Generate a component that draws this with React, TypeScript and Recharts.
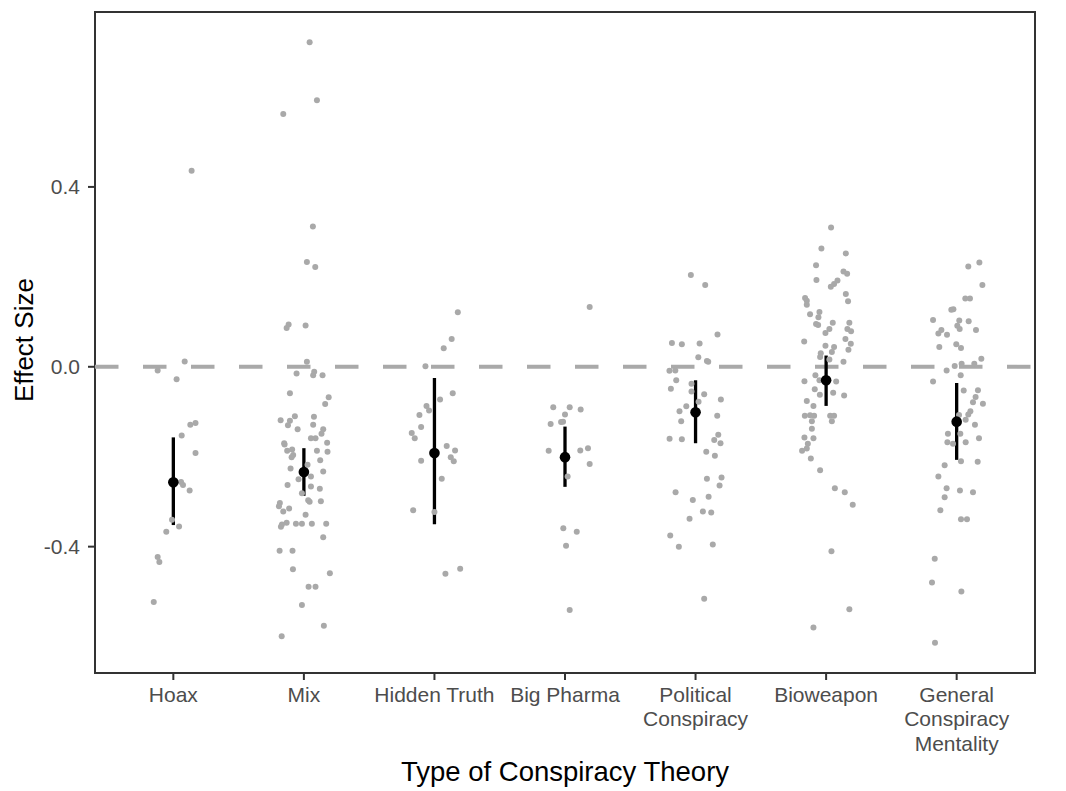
import {
  ComposedChart,
  Scatter,
  XAxis,
  YAxis,
  ReferenceLine,
  ReferenceArea,
} from "recharts";

const FONT = "'Liberation Sans', Arial, sans-serif";

const categories = [
  "Hoax",
  "Mix",
  "Hidden Truth",
  "Big Pharma",
  "Political\nConspiracy",
  "Bioweapon",
  "General\nConspiracy\nMentality",
];

// pooled estimate and 95% CI per type
const means = [-0.257, -0.234, -0.192, -0.201, -0.101, -0.03, -0.122];
const lower = [-0.352, -0.287, -0.35, -0.267, -0.17, -0.087, -0.207];
const upper = [-0.157, -0.181, -0.025, -0.133, -0.03, 0.025, -0.036];

// individual effect sizes: [jitter offset, effect size]
const hoax: [number, number][] = [
  [0.14, 0.436], [0.087, 0.012], [-0.12, -0.008], [0.025, -0.028], [0.13, -0.129],
  [0.17, -0.125], [0.064, -0.153], [0.17, -0.192], [0.059, -0.256], [0.074, -0.263],
  [0.125, -0.275], [-0.01, -0.34], [0.044, -0.355], [-0.054, -0.367], [-0.12, -0.423],
  [-0.107, -0.434], [-0.15, -0.523],
];

const mix: [number, number][] = [
  [0.044, 0.722], [0.1, 0.593], [-0.158, 0.562], [0.069, 0.312], [0.023, 0.233],
  [0.087, 0.222], [-0.117, 0.094], [-0.132, 0.086], [0.013, 0.092], [0.023, 0.011],
  [-0.056, -0.015], [0.079, -0.011], [0.071, -0.019], [0.143, -0.019], [-0.107, -0.059],
  [0.19, -0.068], [0.163, -0.083], [-0.069, -0.11], [-0.178, -0.119], [-0.107, -0.12],
  [-0.122, -0.13], [0.077, -0.111], [0.071, -0.129], [-0.048, -0.139], [0.148, -0.139],
  [0.135, -0.149], [0.054, -0.159], [0.089, -0.159], [-0.151, -0.17], [-0.148, -0.173],
  [0.178, -0.169], [-0.128, -0.187], [-0.09, -0.184], [-0.082, -0.196], [-0.094, -0.201],
  [0.1, -0.187], [0.181, -0.189], [0.125, -0.208], [-0.102, -0.226], [0.028, -0.218],
  [0.148, -0.233], [-0.041, -0.25], [0.054, -0.244], [-0.125, -0.263], [0.054, -0.266],
  [0.122, -0.271], [-0.015, -0.281], [0.033, -0.297], [0.044, -0.3], [0.13, -0.299],
  [-0.184, -0.303], [-0.191, -0.31], [-0.113, -0.315], [-0.158, -0.322], [0.013, -0.329],
  [-0.132, -0.347], [-0.168, -0.351], [-0.176, -0.356], [-0.061, -0.349], [-0.015, -0.349],
  [0.061, -0.349], [0.171, -0.349], [0.148, -0.379], [-0.186, -0.409], [-0.087, -0.409],
  [-0.084, -0.45], [0.199, -0.459], [0.036, -0.489], [0.089, -0.489], [-0.015, -0.53],
  [0.153, -0.576], [-0.17, -0.599],
];

const hiddenTruth: [number, number][] = [
  [0.179, 0.121], [0.132, 0.062], [0.071, 0.041], [-0.069, 0.001], [0.14, -0.059],
  [0.043, -0.073], [-0.061, -0.087], [-0.041, -0.097], [-0.115, -0.107], [-0.102, -0.134],
  [-0.174, -0.147], [-0.151, -0.159], [0.094, -0.176], [0.158, -0.186], [0.125, -0.201],
  [0.148, -0.21], [-0.102, -0.209], [0.056, -0.249], [-0.163, -0.319], [0, -0.323],
  [0.197, -0.449], [0.084, -0.46],
];

const bigPharma: [number, number][] = [
  [0.189, 0.133], [-0.09, -0.09], [0.036, -0.09], [0.12, -0.095], [0, -0.106],
  [-0.11, -0.127], [-0.03, -0.123], [-0.015, -0.122], [-0.125, -0.187], [0.117, -0.186],
  [0.176, -0.181], [0.189, -0.216], [0.02, -0.244], [-0.013, -0.359], [0.09, -0.367],
  [0.008, -0.398], [0.036, -0.541],
];

const political: [number, number][] = [
  [-0.036, 0.204], [0.074, 0.182], [0.168, 0.072], [-0.181, 0.053], [-0.105, 0.05],
  [0.031, 0.052], [0.021, 0.021], [0.087, 0.013], [0.097, 0.011], [-0.2, -0.009],
  [-0.155, -0.008], [-0.148, -0.03], [-0.189, -0.049], [-0.031, -0.038], [-0.031, -0.055],
  [0.066, -0.061], [0.194, -0.073], [0.023, -0.078], [-0.071, -0.088], [-0.123, -0.099],
  [-0.11, -0.121], [0.166, -0.109], [-0.199, -0.16], [-0.105, -0.161], [0.174, -0.151],
  [0.143, -0.163], [0.191, -0.17], [0.082, -0.189], [0.148, -0.198], [0.087, -0.249],
  [0.199, -0.246], [0.184, -0.264], [-0.153, -0.279], [0.1, -0.289], [-0.021, -0.296],
  [0.056, -0.322], [0.12, -0.324], [-0.046, -0.338], [-0.194, -0.375], [-0.128, -0.4],
  [0.132, -0.395], [0.066, -0.516],
];

const bioweapon: [number, number][] = [
  [0.038, 0.31], [-0.036, 0.263], [0.151, 0.252], [-0.077, 0.226], [0.133, 0.212],
  [0.161, 0.207], [-0.074, 0.193], [0.087, 0.192], [0.061, 0.184], [0.036, 0.178],
  [0.151, 0.162], [-0.161, 0.153], [-0.148, 0.147], [-0.148, 0.138], [0.168, 0.146],
  [-0.123, 0.117], [-0.051, 0.122], [-0.059, 0.11], [-0.077, 0.095], [-0.061, 0.093],
  [0.051, 0.098], [0.178, 0.098], [0.025, 0.084], [-0.005, 0.075], [0.163, 0.084],
  [0.191, 0.079], [-0.168, 0.056], [0.148, 0.062], [0.189, 0.051], [-0.005, 0.047],
  [0.061, 0.044], [0.044, 0.033], [0.171, 0.038], [-0.041, 0.03], [-0.046, 0.022],
  [0.025, 0.016], [0.133, 0.011], [-0.082, -0.019], [-0.051, -0.03], [-0.166, -0.032],
  [0.077, -0.033], [-0.087, -0.05], [-0.048, -0.062], [0.054, -0.058], [0.138, -0.064],
  [-0.148, -0.076], [-0.097, -0.087], [-0.163, -0.109], [-0.123, -0.108], [-0.092, -0.109],
  [0.031, -0.109], [0.061, -0.109], [0.044, -0.121], [-0.109, -0.121], [-0.109, -0.138],
  [-0.166, -0.157], [-0.097, -0.159], [-0.14, -0.171], [-0.148, -0.182], [-0.184, -0.187],
  [-0.117, -0.204], [-0.046, -0.23], [0.067, -0.27], [0.143, -0.279], [0.204, -0.307],
  [0.041, -0.41], [0.178, -0.539], [-0.097, -0.58],
];

const general: [number, number][] = [
  [0.174, 0.232], [0.089, 0.223], [0.197, 0.182], [0.066, 0.152], [0.102, 0.152],
  [-0.041, 0.127], [-0.025, 0.128], [-0.181, 0.104], [0.02, 0.103], [0.005, 0.091],
  [0.023, 0.084], [0.092, 0.101], [-0.117, 0.082], [-0.14, 0.074], [-0.074, 0.071],
  [0.148, 0.082], [-0.003, 0.05], [0.033, 0.042], [-0.133, 0.044], [0.189, 0.018],
  [0.135, 0.007], [0.038, 0.007], [-0.015, 0.002], [-0.077, -0.008], [-0.181, -0.033],
  [0.031, -0.019], [0.054, -0.053], [0.163, -0.052], [0.145, -0.067], [0.125, -0.079],
  [0.201, -0.082], [0.105, -0.099], [0.089, -0.106], [0.018, -0.107], [0.069, -0.118],
  [0.14, -0.129], [-0.067, -0.149], [0.028, -0.149], [0.171, -0.159], [-0.071, -0.168],
  [-0.028, -0.171], [0.069, -0.168], [0.033, -0.21], [0.161, -0.211], [-0.092, -0.219],
  [-0.14, -0.244], [-0.077, -0.27], [-0.092, -0.29], [0.025, -0.275], [0.125, -0.279],
  [-0.125, -0.319], [0.033, -0.339], [0.079, -0.339], [-0.168, -0.427], [-0.189, -0.48],
  [0.036, -0.5], [-0.166, -0.614],
];

const yTicks = [-0.4, 0, 0.4];
const Y_MIN = -0.681;
const Y_MAX = 0.789;
const X_MIN = 0.4;
const X_MAX = 7.6;

const groups = [hoax, mix, hiddenTruth, bigPharma, political, bioweapon, general];

const studyPoints = groups.flatMap((g, i) =>
  g.map(([jit, v]) => ({ x: i + 1 + jit, y: v }))
);
const meanPoints = means.map((m, i) => ({ x: i + 1, y: m }));

function CategoryTick({ x, y, payload }: any) {
  const idx = Math.round(payload.value) - 1;
  const lines = (categories[idx] ?? "").split("\n");
  return (
    <text
      x={x}
      y={y + 19.5}
      textAnchor="middle"
      fill="#4d4d4d"
      fontSize={21}
      fontFamily={FONT}
    >
      {lines.map((l, i) => (
        <tspan key={i} x={x} dy={i === 0 ? 0 : 24.5}>
          {l}
        </tspan>
      ))}
    </text>
  );
}

export default function App() {
  return (
    <div style={{ position: "absolute", left: 0, top: 0, width: 1066, height: 791, background: "#fff" }}>
      <ComposedChart
        width={1066}
        height={791}
        margin={{ top: 12, right: 31, left: 0, bottom: 0 }}
      >
        <XAxis
          dataKey="x"
          type="number"
          domain={[X_MIN, X_MAX]}
          ticks={[1, 2, 3, 4, 5, 6, 7]}
          interval={0}
          allowDataOverflow
          axisLine={false}
          tickLine={{ stroke: "#333", strokeWidth: 2 }}
          tickSize={7}
          tickMargin={2}
          height={118}
          tick={CategoryTick}
        />
        <YAxis
          dataKey="y"
          type="number"
          domain={[Y_MIN, Y_MAX]}
          ticks={yTicks}
          allowDataOverflow
          axisLine={false}
          tickLine={{ stroke: "#333", strokeWidth: 2 }}
          tickSize={7}
          tickMargin={8}
          width={95}
          tickFormatter={(v: number) => v.toFixed(1)}
          tick={{ fill: "#4d4d4d", fontSize: 21, fontFamily: FONT }}
        />
        <Scatter
          data={studyPoints}
          isAnimationActive={false}
          shape={(p: any) => <circle cx={p.cx} cy={p.cy} r={3} fill="#a9a9a9" />}
        />
        <ReferenceLine
          y={0}
          stroke="#a9a9a9"
          strokeWidth={4}
          strokeDasharray="23.5 24.5"
        />
        {means.map((_, i) => (
          <ReferenceLine
            key={i}
            segment={[
              { x: i + 1, y: lower[i] },
              { x: i + 1, y: upper[i] },
            ]}
            stroke="#000"
            strokeWidth={3.3}
          />
        ))}
        <Scatter
          data={meanPoints}
          isAnimationActive={false}
          shape={(p: any) => <circle cx={p.cx} cy={p.cy} r={5.3} fill="#000" />}
        />
        <ReferenceArea
          x1={X_MIN}
          x2={X_MAX}
          y1={Y_MIN}
          y2={Y_MAX}
          fill="none"
          stroke="#333"
          strokeWidth={2}
          ifOverflow="visible"
        />
      </ComposedChart>
      <svg
        width={1066}
        height={791}
        style={{ position: "absolute", left: 0, top: 0, pointerEvents: "none" }}
      >
        <text x={565} y={781} textAnchor="middle" fontSize={27.5} fontFamily={FONT} fill="#000">
          Type of Conspiracy Theory
        </text>
        <text
          x={-340}
          y={33}
          transform="rotate(-90)"
          textAnchor="middle"
          fontSize={26}
          fontFamily={FONT}
          fill="#000"
        >
          Effect Size
        </text>
      </svg>
    </div>
  );
}
